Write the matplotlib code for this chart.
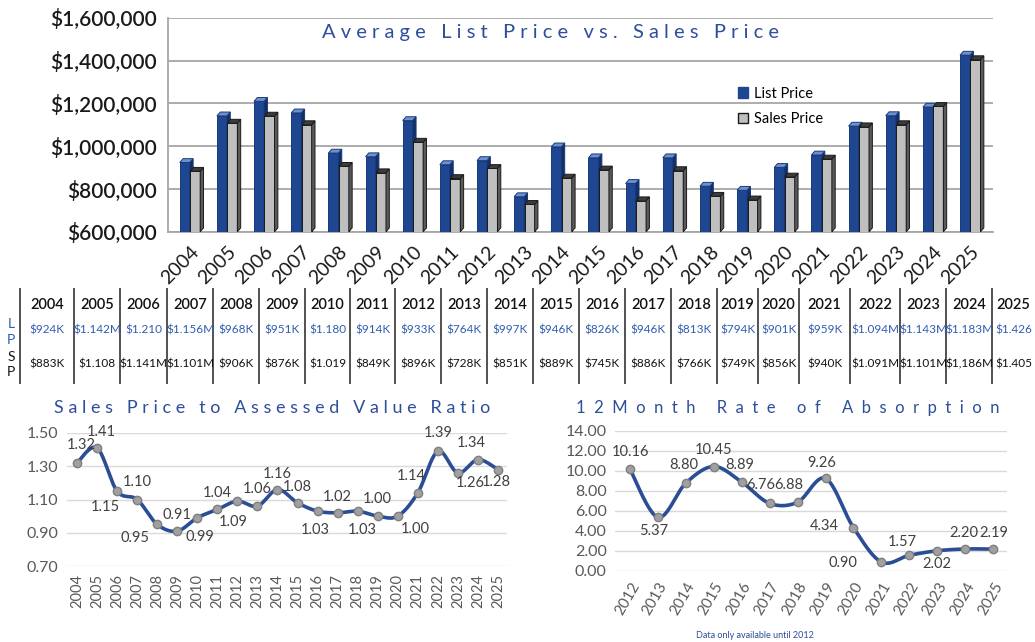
import numpy as np
import matplotlib.pyplot as plt
from matplotlib.patches import Polygon, Patch

plt.rcParams['font.family'] = ['Lato', 'DejaVu Sans']

# ---- data ----
years = ['2004', '2005', '2006', '2007', '2008', '2009', '2010', '2011', '2012', '2013', '2014',
         '2015', '2016', '2017', '2018', '2019', '2020', '2021', '2022', '2023', '2024', '2025']
list_price = [924000, 1142000, 1210000, 1156000, 968000, 951000, 1120000, 914000, 933000, 764000, 997000,
              946000, 826000, 946000, 813000, 794000, 901000, 959000, 1094000, 1143000, 1183000, 1426000]
sales_price = [883000, 1108000, 1141000, 1101000, 906000, 876000, 1019000, 849000, 896000, 728000, 851000,
               889000, 745000, 886000, 766000, 749000, 856000, 940000, 1091000, 1101000, 1186000, 1405000]

lp_text = ['$924K', '$1.142M', '$1.210', '$1.156M', '$968K', '$951K', '$1.180', '$914K', '$933K', '$764K', '$997K',
           '$946K', '$826K', '$946K', '$813K', '$794K', '$901K', '$959K', '$1.094M', '$1.143M', '$1.183M', '$1.426']
sp_text = ['$883K', '$1.108', '$1.141M', '$1.101M', '$906K', '$876K', '$1.019', '$849K', '$896K', '$728K', '$851K',
           '$889K', '$745K', '$886K', '$766K', '$749K', '$856K', '$940K', '$1.091M', '$1.101M', '$1,186M', '$1.405']

ratio = [1.32, 1.41, 1.15, 1.10, 0.95, 0.91, 0.99, 1.04, 1.09, 1.06, 1.16,
         1.08, 1.03, 1.02, 1.03, 1.00, 1.00, 1.14, 1.39, 1.26, 1.34, 1.28]

abs_years = ['2012', '2013', '2014', '2015', '2016', '2017', '2018', '2019', '2020', '2021', '2022', '2023', '2024', '2025']
absorption = [10.16, 5.37, 8.80, 10.45, 8.89, 6.76, 6.88, 9.26, 4.34, 0.90, 1.57, 2.02, 2.20, 2.19]

# layout: table column edges (pixels) and label offsets (pixels)
col_edges = [20, 74, 120, 167, 213, 259, 305, 350, 395, 441, 487, 533, 579, 625, 671, 717, 758, 799, 850, 900,
             946, 992, 1035]
ratio_offsets = [(4, 18), (4, 16), (-12, -16), (0, 17), (-22, -14), (0, 16), (3, -19), (0, 16), (-4, -21),
                 (0, 17), (0, 16), (0, 16), (-2, -19), (0, 16), (5, -19), (0, 17), (17, -13), (-7, 17),
                 (0, 18), (12, -10), (-7, 17), (-2, -12)]
abs_offsets = [(0, 17), (-4, -14), (-2, 18), (0, 17), (-2, 17), (-9, 18), (-9, 17), (-4, 15),
               (-29, 2), (-38, -1), (-7, 13), (0, -13), (-1, 16), (1, 16)]

BLUE = '#1f4690'
TITLE_BLUE = '#2d4e9b'
LINE_BLUE = '#2a4d96'
GRID = '#a6a6a6'
W, H = 1035, 642


def spaced(s, n=1):
    return (' ' * n).join(s)


def smooth(x, y, n=24):
    pts = np.column_stack([x, y]).astype(float)
    p = np.vstack([pts[0], pts, pts[-1]])
    out = []
    t = np.linspace(0, 1, n, endpoint=False)[:, None]
    for i in range(len(pts) - 1):
        p0, p1, p2, p3 = p[i], p[i + 1], p[i + 2], p[i + 3]
        seg = 0.5 * (2 * p1 + (-p0 + p2) * t + (2 * p0 - 5 * p1 + 4 * p2 - p3) * t ** 2
                     + (-p0 + 3 * p1 - 3 * p2 + p3) * t ** 3)
        out.append(seg)
    out.append(pts[-1][None])
    out = np.vstack(out)
    return out[:, 0], out[:, 1]


def bar3d(ax, x, h, w, base, face, side, top, edge):
    dx, dy = 0.09, 18000
    ax.bar(x, h - base, bottom=base, width=w, color=face, edgecolor=edge, linewidth=0.7, zorder=3)
    ax.add_patch(Polygon([(x + w / 2, base), (x + w / 2 + dx, base + dy), (x + w / 2 + dx, h + dy), (x + w / 2, h)],
                         closed=True, facecolor=side, edgecolor=edge, linewidth=0.7, zorder=3))
    ax.add_patch(Polygon([(x - w / 2, h), (x - w / 2 + dx, h + dy), (x + w / 2 + dx, h + dy), (x + w / 2, h)],
                         closed=True, facecolor=top, edgecolor=edge, linewidth=0.7, zorder=3))


fig = plt.figure(figsize=(10.35, 6.42), dpi=100)

# ---- bar chart ----
ax = fig.add_axes([0.162, 0.639, 0.797, 0.333])
base = 600000
x = np.arange(len(years))
w = 0.27
for i in range(len(years)):
    bar3d(ax, x[i] - 0.14, list_price[i], w, base, BLUE, '#132f66', '#6f8fd0', '#173a7a')
    bar3d(ax, x[i] + 0.14, sales_price[i], w, base, '#bfbfbf', '#5a5a5a', '#3c3c3c', '#1a1a1a')
ax.set_ylim(600000, 1600000)
ax.set_xlim(-0.6, 21.6)
ax.set_yticks(np.arange(600000, 1600001, 200000))
ax.set_yticklabels(['${:,.0f}'.format(v) for v in np.arange(600000, 1600001, 200000)],
                   fontsize=15, fontweight='semibold', color='#1a1a1a')
ax.set_xticks(x)
ax.set_xticklabels(years, rotation=45, ha='right', rotation_mode='anchor', fontsize=14, color='#1a1a1a')
ax.tick_params(length=0, pad=8)
ax.grid(axis='y', color=GRID, linewidth=1.3, zorder=0)
for s in ['top', 'right']:
    ax.spines[s].set_visible(False)
ax.spines['left'].set_color(GRID)
ax.spines['bottom'].set_color(GRID)
ax.spines['left'].set_linewidth(1.3)
ax.spines['bottom'].set_linewidth(1.3)
handles = [Patch(facecolor=BLUE, edgecolor=BLUE), Patch(facecolor='#bfbfbf', edgecolor='#1a1a1a')]
ax.legend(handles, ['List Price', 'Sales Price'], loc='upper left', bbox_to_anchor=(0.675, 0.74),
          frameon=False, fontsize=10.5, handlelength=0.7, handleheight=0.7, handletextpad=0.4, labelspacing=0.8)
fig.text(0.532, 0.950, spaced('Average List Price vs. Sales Price'), ha='center', va='center',
         fontsize=14.5, color=TITLE_BLUE)

# ---- table ----
tax = fig.add_axes([0, 1 - 384 / H, 1, 96 / H])
tax.set_xlim(0, W)
tax.set_ylim(0, 1)
tax.axis('off')
for e in col_edges[:-1]:
    tax.axvline(e, color='#333333', linewidth=1.2)
for i in range(len(years)):
    cx = (col_edges[i] + col_edges[i + 1]) / 2
    tax.text(cx, 0.82, years[i], ha='center', va='center', fontsize=10.5, fontweight='semibold', color='#111111')
    tax.text(cx, 0.56, lp_text[i], ha='center', va='center', fontsize=8.5, color='#2f5cb0')
    tax.text(cx, 0.21, sp_text[i], ha='center', va='center', fontsize=8.5, color='#111111')
for lab, yy, c in [('L', 0.62, '#2f5cb0'), ('P', 0.46, '#2f5cb0'), ('S', 0.28, '#111111'), ('P', 0.12, '#111111')]:
    tax.text(11, yy, lab, ha='center', va='center', fontsize=10, color=c)

# ---- ratio line chart ----
ax2 = fig.add_axes([67 / W, 1 - 566 / H, 440 / W, 133 / H])
xr = np.arange(len(years))
sx, sy = smooth(xr, ratio)
ax2.plot(sx, sy, color=LINE_BLUE, linewidth=2.6, zorder=3, solid_capstyle='round')
ax2.plot(xr, ratio, 'o', color='#a0a0a0', markeredgecolor='#7f7f7f', markersize=6, zorder=4)
for i in range(len(years)):
    ax2.annotate('{:.2f}'.format(ratio[i]), (xr[i], ratio[i]), xytext=ratio_offsets[i], textcoords='offset pixels',
                 ha='center', va='center', fontsize=10.5, color='#404040', zorder=5)
ax2.set_ylim(0.70, 1.50)
ax2.set_xlim(-0.5, 21.45)
ax2.set_yticks([0.70, 0.90, 1.10, 1.30, 1.50])
ax2.set_yticklabels(['0.70', '0.90', '1.10', '1.30', '1.50'], fontsize=11.5, color='#595959')
ax2.set_xticks(xr)
ax2.set_xticklabels(years, rotation=90, fontsize=10.5, color='#595959')
ax2.tick_params(length=0, pad=6)
ax2.grid(axis='y', color='#d9d9d9', linewidth=1)
for s in ax2.spines.values():
    s.set_visible(False)
fig.text(272 / W, 1 - 408 / H, spaced('Sales Price to Assessed Value Ratio'), ha='center', va='center',
         fontsize=13, color=TITLE_BLUE)

# ---- absorption line chart ----
ax3 = fig.add_axes([615 / W, 1 - 571 / H, 392 / W, 140 / H])
xa = np.arange(len(abs_years))
sx, sy = smooth(xa, absorption)
ax3.plot(sx, sy, color=LINE_BLUE, linewidth=2.6, zorder=3, solid_capstyle='round')
ax3.plot(xa, absorption, 'o', color='#a0a0a0', markeredgecolor='#7f7f7f', markersize=6, zorder=4)
for i in range(len(abs_years)):
    ax3.annotate('{:.2f}'.format(absorption[i]), (xa[i], absorption[i]), xytext=abs_offsets[i],
                 textcoords='offset pixels', ha='center', va='center', fontsize=10.5, color='#404040', zorder=5)
ax3.set_ylim(0, 14)
ax3.set_xlim(-0.54, 13.5)
ax3.set_yticks(np.arange(0, 15, 2))
ax3.set_yticklabels(['{:.2f}'.format(v) for v in np.arange(0, 15, 2)], fontsize=11.5, color='#595959')
ax3.set_xticks(xa)
ax3.set_xticklabels(abs_years, rotation=60, ha='right', rotation_mode='anchor', fontsize=11, color='#595959')
ax3.tick_params(length=0, pad=6)
ax3.grid(axis='y', color='#d9d9d9', linewidth=1)
for s in ax3.spines.values():
    s.set_visible(False)
fig.text(788 / W, 1 - 408 / H, spaced('12Month Rate of Absorption', 2), ha='center', va='center',
         fontsize=12, color=TITLE_BLUE)
fig.text(755 / W, 1 - 635 / H, 'Data only available until 2012', ha='center', va='center',
         fontsize=6.5, color=TITLE_BLUE)

fig.savefig('out.png', dpi=100)
